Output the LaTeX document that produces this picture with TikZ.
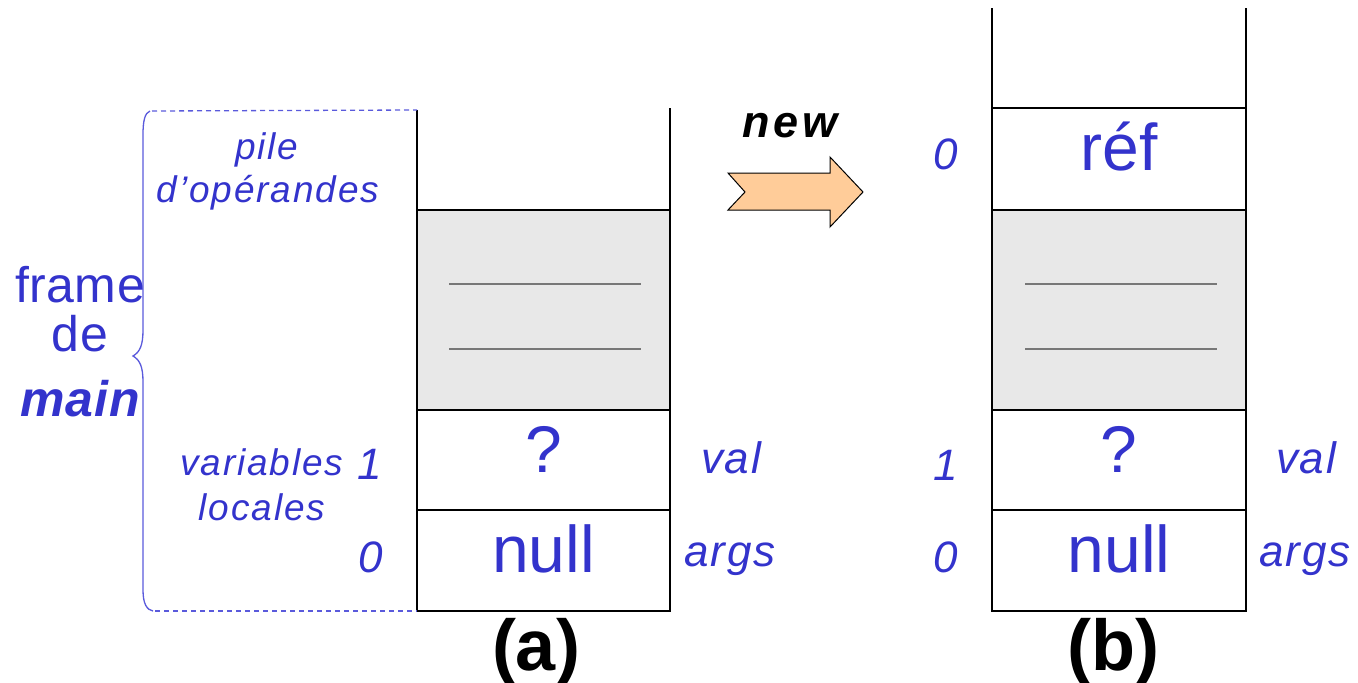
\documentclass[tikz,border=0pt]{standalone}
\usepackage{fontspec}
\setmainfont{Liberation Sans}
\definecolor{txt}{HTML}{3333CC}
\definecolor{brc}{HTML}{5A5ADC}
\definecolor{gfill}{HTML}{E8E8E8}
\definecolor{peach}{HTML}{FFCC99}
\definecolor{gline}{HTML}{777777}
\begin{document}
\begin{tikzpicture}[x=1pt,y=-1pt,
  cell/.style={draw=black, line width=1.3pt, inner sep=0pt, outer sep=0pt},
  greycell/.style={cell, fill=gfill},
  wall/.style={draw=black, line width=1.3pt},
  sepln/.style={draw=gline, line width=1.2pt},
  lbl/.style={text=txt, anchor=base, inner sep=0pt, font=\fontsize{37}{40}\selectfont\itshape\addfontfeature{LetterSpace=5}},
  lblbig/.style={text=txt, anchor=base, inner sep=0pt, font=\fontsize{44}{48}\selectfont\itshape\addfontfeature{LetterSpace=4}},
  big/.style={text=txt, anchor=base, inner sep=0pt, font=\fontsize{66}{70}\selectfont},
  frm/.style={text=txt, anchor=base, inner sep=0pt, font=\fontsize{50}{54}\selectfont\addfontfeature{LetterSpace=1}},
  captxt/.style={text=black, anchor=base, inner sep=0pt, font=\fontsize{72}{76}\selectfont\bfseries},
  bracestyle/.style={draw=brc, line width=1.3pt},
  dashln/.style={draw=brc, line width=1.3pt, dash pattern=on 5pt off 4pt}
]
\useasboundingbox (0,0) rectangle (1358,683);

% ---------- stack (a)
\node[greycell, minimum width=253pt, minimum height=200pt] (ag) at (543.5,310) {};
\node[cell, minimum width=253pt, minimum height=100pt] (aq) at (543.5,460) {};
\node[cell, minimum width=253pt, minimum height=101pt] (an) at (543.5,560.5) {};
\coordinate (atl) at (417,110);
\coordinate (atr) at (670,108);
\draw[wall] (ag.north west) -- (atl);
\draw[wall] (ag.north east) -- (atr);
\coordinate (ag1l) at (449,284); \coordinate (ag1r) at (641,284);
\coordinate (ag2l) at (449,349); \coordinate (ag2r) at (641,349);
\draw[sepln] (ag1l) -- (ag1r);
\draw[sepln] (ag2l) -- (ag2r);

% ---------- stack (b)
\node[cell, minimum width=254pt, minimum height=102pt] (br) at (1119,159) {};
\node[greycell, minimum width=254pt, minimum height=200pt] (bg) at (1119,310) {};
\node[cell, minimum width=254pt, minimum height=100pt] (bq) at (1119,460) {};
\node[cell, minimum width=254pt, minimum height=101pt] (bn) at (1119,560.5) {};
\coordinate (btl) at (992,8);
\coordinate (btr) at (1246,8);
\draw[wall] (br.north west) -- (btl);
\draw[wall] (br.north east) -- (btr);
\coordinate (bg1l) at (1025,284); \coordinate (bg1r) at (1217,284);
\coordinate (bg2l) at (1025,349); \coordinate (bg2r) at (1217,349);
\draw[sepln] (bg1l) -- (bg1r);
\draw[sepln] (bg2l) -- (bg2r);

% ---------- brace and dashed lines
\coordinate (brt) at (152,111);
\coordinate (brb) at (155,611);
\draw[bracestyle] (150,111) .. controls (145,113) and (143,120) .. (143,135)
  -- (143,330) .. controls (143,345) and (140,352) .. (133,356)
  .. controls (140,360) and (143,367) .. (143,382)
  -- (143,590) .. controls (143,604) and (147,610) .. (153,611);
\draw[dashln] (brt) -- (atl);
\draw[dashln] (brb) -- (an.south west);

% ---------- labels (a)
\node[lbl] (tpile) at (267,159) {pile};
\node[lbl] (tdop) at (268,202) {d’opérandes};
\node[frm] (tframe) at (80,302) {frame};
\node[frm] (tde) at (80,351) {de};
\node[frm, font=\fontsize{50}{54}\selectfont\bfseries\itshape\addfontfeature{LetterSpace=2}] (tmain) at (80,416) {main};
\node[lbl] (tvar) at (262,475) {variables};
\node[lbl] (tloc) at (262,520) {locales};
\node[lblbig] (ta1) at (370,479) {1};
\node[lblbig] (ta0) at (371,572) {0};
\node[big] (taq) at (543.5,472) {?};
\node[big] (tan) at (543.5,572) {null};
\node[lblbig] (taval) at (731,473) {val};
\node[lblbig] (taargs) at (730,566) {args};
\node[captxt] (tA) at (536,670) {(a)};

% ---------- arrow "new"
\node[text=black, anchor=base, inner sep=0pt, font=\fontsize{45}{48}\selectfont\bfseries\itshape\addfontfeature{LetterSpace=9}] (tnew) at (790,137) {new};
\draw[draw=black, fill=peach, line width=1pt]
  (728,173) -- (830,173) -- (830,157) -- (863,192) -- (830,227) -- (830,210)
  -- (728,210) -- (745,192) -- cycle;

% ---------- labels (b)
\node[lblbig] (tb0r) at (946,169) {0};
\node[big] (tbr) at (1119,170) {réf};
\node[lblbig] (tb1) at (946,480) {1};
\node[lblbig] (tb0) at (946,572) {0};
\node[big] (tbq) at (1119,472) {?};
\node[big] (tbn) at (1119,572) {null};
\node[lblbig] (tbval) at (1306,473) {val};
\node[lblbig] (tbargs) at (1305,566) {args};
\node[captxt] (tB) at (1113,670) {(b)};
\end{tikzpicture}
\end{document}
